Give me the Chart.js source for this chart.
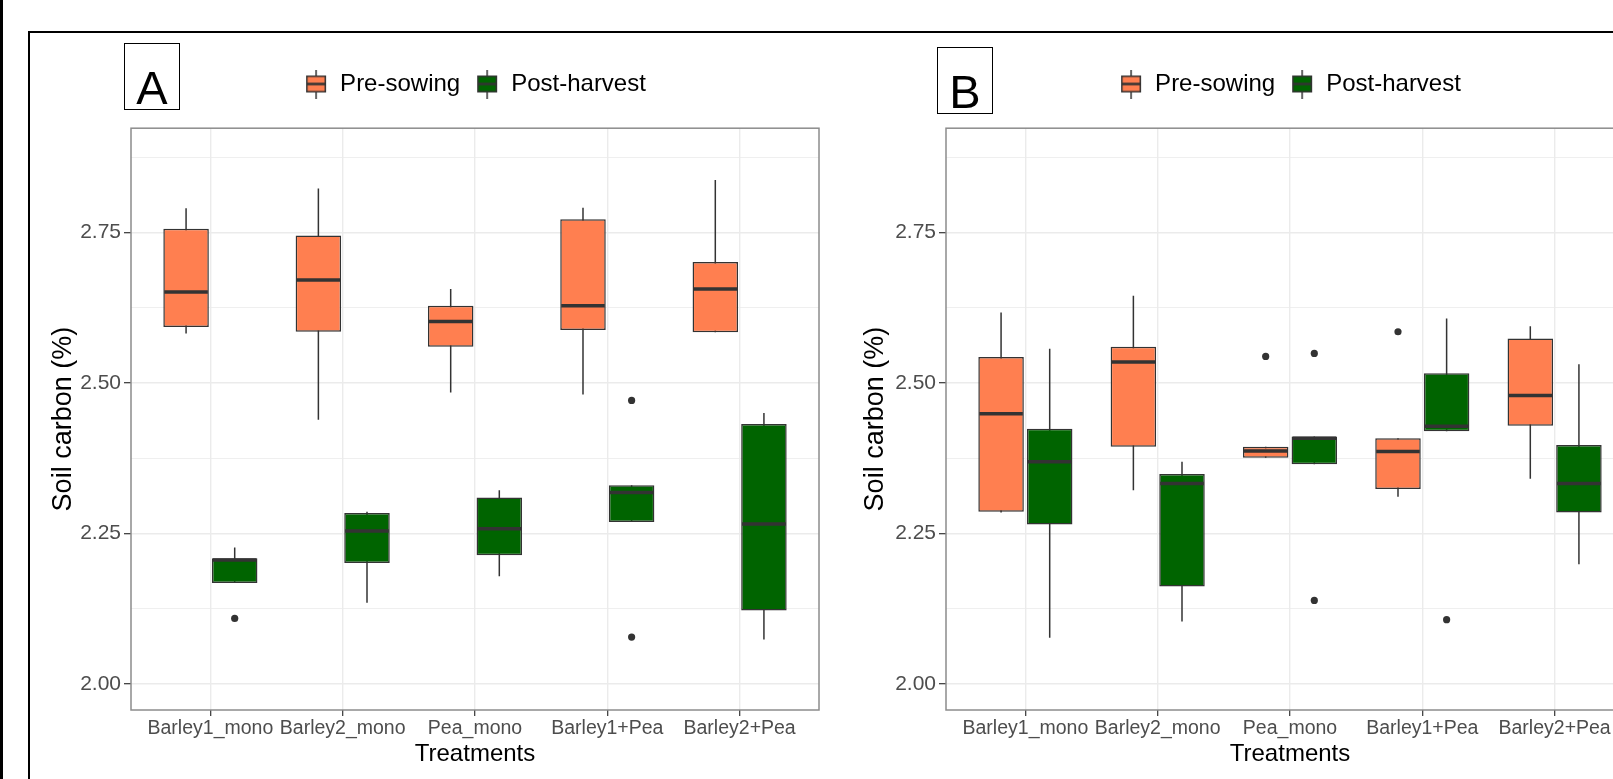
<!DOCTYPE html>
<html>
<head>
<meta charset="utf-8">
<title>Soil carbon before sowing and after harvest</title>
<script src="https://cdn.jsdelivr.net/npm/chart.js@4.4.1/dist/chart.umd.min.js"></script>
<style>
  html, body { margin: 0; padding: 0; background: #fff; width: 1613px; height: 779px; overflow: hidden; position: relative; }
  .edge { position: absolute; background: #000; }
  canvas { position: absolute; top: 0; }
  .tag { position: absolute; width: 54px; height: 65px; border: 1px solid #000; background: #fff;
         font: 47px 'Liberation Sans', Arial, sans-serif; color: #000; }
  .tag span { position: absolute; left: 0; right: 0; top: 20px; line-height: 1; text-align: center; }
</style>
</head>
<body>
<div class="edge" style="left:0;top:0;width:3px;height:779px"></div>
<div class="edge" style="left:28px;top:31px;width:1585px;height:1.5px"></div>
<div class="edge" style="left:28px;top:31px;width:1.5px;height:748px"></div>

<canvas id="chartA" width="830" height="779" style="left:0"></canvas>
<canvas id="chartB" width="830" height="779" style="left:820px"></canvas>

<div class="tag" style="left:124px;top:43px"><span>A</span></div>
<div class="tag" style="left:937px;top:47px"><span>B</span></div>

<script>
const treatments = ['Barley1_mono', 'Barley2_mono', 'Pea_mono', 'Barley1+Pea', 'Barley2+Pea'];
const seriesNames = ['Pre-sowing', 'Post-harvest'];
const seriesColors = ['#FF7F50', '#006400'];
const yMajorTicks = [2.00, 2.25, 2.50, 2.75];
const yMinorTicks = [2.125, 2.375, 2.625, 2.875];

// each entry: [lower whisker, Q1, median, Q3, upper whisker]
const preSowingA = [
  [2.582, 2.593, 2.651, 2.756, 2.790],
  [2.439, 2.585, 2.671, 2.745, 2.823],
  [2.484, 2.560, 2.602, 2.628, 2.656],
  [2.481, 2.588, 2.628, 2.772, 2.791],
  [2.584, 2.584, 2.656, 2.701, 2.837]
];
const postHarvestA = [
  [2.168, 2.168, 2.206, 2.209, 2.227],
  [2.135, 2.201, 2.254, 2.284, 2.286],
  [2.179, 2.214, 2.258, 2.310, 2.322],
  [2.269, 2.269, 2.318, 2.330, 2.330],
  [2.074, 2.122, 2.266, 2.432, 2.450]
];
const preSowingB = [
  [2.285, 2.286, 2.449, 2.543, 2.617],
  [2.322, 2.394, 2.535, 2.560, 2.645],
  [2.376, 2.376, 2.387, 2.394, 2.394],
  [2.311, 2.324, 2.386, 2.408, 2.408],
  [2.341, 2.429, 2.479, 2.574, 2.594]
];
const postHarvestB = [
  [2.077, 2.265, 2.369, 2.424, 2.557],
  [2.104, 2.162, 2.333, 2.349, 2.369],
  [2.365, 2.365, 2.408, 2.411, 2.411],
  [2.420, 2.420, 2.428, 2.516, 2.607],
  [2.199, 2.285, 2.333, 2.397, 2.531]
];

// single points outside the whiskers
const preOutliersA = [[], [], [], [], []];
const postOutliersA = [[2.109], [], [], [2.471, 2.078], []];
const preOutliersB = [[], [], [2.544], [2.585], []];
const postOutliersB = [[], [], [2.549, 2.139], [2.107], []];

Chart.defaults.font.family = "'Liberation Sans', Arial, sans-serif";

const LINE = '#333333';

function legendIcon(color) {
  const c = document.createElement('canvas');
  c.width = 22;
  c.height = 29;
  const g = c.getContext('2d');
  g.strokeStyle = LINE;
  g.lineWidth = 1.5;
  g.beginPath();
  g.moveTo(11, 0);
  g.lineTo(11, 29);
  g.stroke();
  g.fillStyle = color;
  g.fillRect(1, 6, 20, 17);
  g.strokeRect(1.75, 6.75, 18.5, 15.5);
  g.lineWidth = 2.5;
  g.beginPath();
  g.moveTo(1, 14.5);
  g.lineTo(21, 14.5);
  g.stroke();
  return c;
}

function boxDataset(i, stats, outliers) {
  return {
    label: seriesNames[i],
    backgroundColor: seriesColors[i],
    borderColor: LINE,
    borderWidth: 1.5,
    borderSkipped: false,
    categoryPercentage: 0.735,
    barPercentage: 0.936,
    data: stats.map((s, k) => ({ x: k + 1, y: [s[1], s[3]] })),
    boxStats: stats,
    outliers: outliers
  };
}

// whiskers, medians, outliers and the panel border, placed with the chart's own scales
const boxplotParts = {
  id: 'boxplotParts',
  beforeDatasetsDraw(chart) {
    const { ctx, chartArea, scales } = chart;
    ctx.save();
    ctx.beginPath();
    ctx.rect(chartArea.left, chartArea.top, chartArea.width, chartArea.height);
    ctx.clip();
    ctx.strokeStyle = LINE;
    ctx.lineWidth = 1.5;
    chart.data.datasets.forEach((ds, d) => {
      chart.getDatasetMeta(d).data.forEach((bar, k) => {
        const s = ds.boxStats[k];
        ctx.beginPath();
        ctx.moveTo(bar.x, scales.y.getPixelForValue(s[0]));
        ctx.lineTo(bar.x, scales.y.getPixelForValue(s[4]));
        ctx.stroke();
      });
    });
    ctx.restore();
  },
  afterDatasetsDraw(chart) {
    const { ctx, chartArea, scales } = chart;
    ctx.save();
    ctx.beginPath();
    ctx.rect(chartArea.left, chartArea.top, chartArea.width, chartArea.height);
    ctx.clip();
    chart.data.datasets.forEach((ds, d) => {
      chart.getDatasetMeta(d).data.forEach((bar, k) => {
        const s = ds.boxStats[k];
        const my = scales.y.getPixelForValue(s[2]);
        ctx.strokeStyle = LINE;
        ctx.lineWidth = 3.5;
        ctx.beginPath();
        ctx.moveTo(bar.x - bar.width / 2 + 1, my);
        ctx.lineTo(bar.x + bar.width / 2 - 1, my);
        ctx.stroke();
        ctx.fillStyle = LINE;
        ds.outliers[k].forEach(v => {
          ctx.beginPath();
          ctx.arc(bar.x, scales.y.getPixelForValue(v), 3.6, 0, Math.PI * 2);
          ctx.fill();
        });
      });
    });
    ctx.restore();
    ctx.save();
    ctx.strokeStyle = '#8c8c8c';
    ctx.lineWidth = 1.5;
    ctx.strokeRect(chartArea.left, chartArea.top, chartArea.width, chartArea.height);
    ctx.restore();
  }
};

function isMajor(v) {
  return yMajorTicks.some(t => Math.abs(t - v) < 1e-9);
}

function makePanel(canvasId, pre, post, preOut, postOut, axisWidth, rightPad, titlePad) {
  const ctx = document.getElementById(canvasId).getContext('2d');
  return new Chart(ctx, {
    type: 'bar',
    data: {
      datasets: [boxDataset(0, pre, preOut), boxDataset(1, post, postOut)]
    },
    options: {
      responsive: false,
      animation: false,
      layout: { padding: { top: 57, left: 0, right: rightPad, bottom: 0 } },
      plugins: {
        tooltip: { enabled: false },
        legend: {
          position: 'top',
          fullSize: false,
          labels: {
            padding: 15,
            usePointStyle: true,
            pointStyleWidth: 24,
            color: '#111',
            font: { size: 24 },
            generateLabels: chart => chart.data.datasets.map((ds, i) => ({
              text: ds.label,
              pointStyle: legendIcon(ds.backgroundColor),
              fillStyle: ds.backgroundColor,
              strokeStyle: LINE,
              lineWidth: 0,
              hidden: false,
              datasetIndex: i
            }))
          }
        },
        // empty spacer between legend and panel
        title: { display: true, text: '', weight: 500, font: { size: 1 }, padding: { top: 0, bottom: 21 } }
      },
      scales: {
        x: {
          type: 'linear',
          min: 0.4,
          max: 5.6,
          offset: false,
          afterBuildTicks: s => { s.ticks = treatments.map((t, i) => ({ value: i + 1 })); },
          afterFit: s => { s.height = 69; },
          ticks: {
            autoSkip: false,
            maxRotation: 0,
            padding: 1,
            color: '#4d4d4d',
            font: { size: 19.5 },
            callback: v => treatments[Math.round(v) - 1]
          },
          grid: { offset: false, color: '#ebebeb', lineWidth: 1.4, tickLength: 6, tickColor: LINE, tickWidth: 1.2 },
          border: { display: false },
          title: { display: true, text: 'Treatments', color: '#000', font: { size: 24 }, padding: { top: 0, bottom: 10 } }
        },
        y: {
          min: 1.957,
          max: 2.923,
          afterBuildTicks: s => {
            s.ticks = yMajorTicks.concat(yMinorTicks).sort((a, b) => a - b).map(v => ({ value: v }));
          },
          afterFit: s => { s.width = axisWidth; },
          ticks: {
            autoSkip: false,
            padding: 3,
            color: '#4d4d4d',
            font: { size: 21 },
            callback: v => isMajor(v) ? v.toFixed(2) : ''
          },
          grid: {
            color: '#ebebeb',
            lineWidth: c => isMajor(c.tick.value) ? 1.4 : 0.8,
            tickLength: 7,
            tickColor: c => isMajor(c.tick.value) ? LINE : 'rgba(0,0,0,0)',
            tickWidth: 1.2
          },
          border: { display: false },
          title: { display: true, text: 'Soil carbon (%)', color: '#000', font: { size: 27 }, padding: { top: titlePad, bottom: 0 } }
        }
      }
    },
    plugins: [boxplotParts]
  });
}

makePanel('chartA', preSowingA, postHarvestA, preOutliersA, postOutliersA, 131, 11, 47);
makePanel('chartB', preSowingB, postHarvestB, preOutliersB, postOutliersB, 126, 16, 39);
</script>
</body>
</html>
